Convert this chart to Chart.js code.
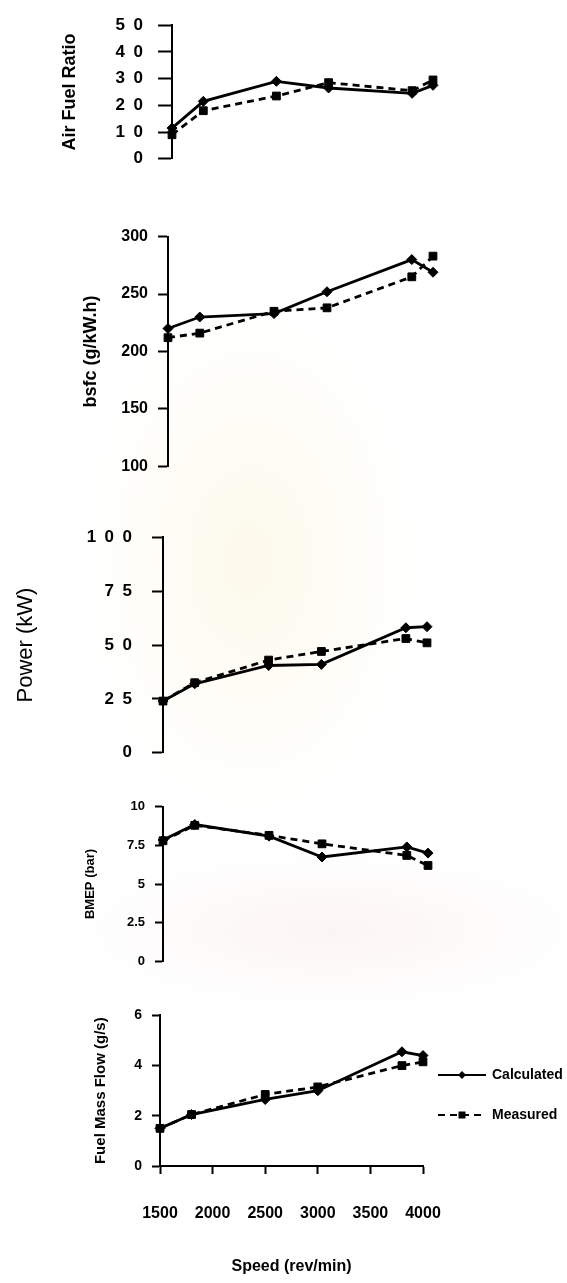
<!DOCTYPE html>
<html>
<head>
<meta charset="utf-8">
<script src="https://cdn.jsdelivr.net/npm/chart.js@4.4.1/dist/chart.umd.min.js"></script>
<style>
  html, body { margin: 0; padding: 0; background: #ffffff; }
  body {
    width: 567px; height: 1283px; position: relative; overflow: hidden;
    background:
      radial-gradient(ellipse 170px 260px at 250px 560px, rgba(250,244,215,0.5), rgba(255,255,255,0) 100%),
      radial-gradient(ellipse 260px 80px at 330px 930px, rgba(250,232,232,0.45), rgba(255,255,255,0) 100%),
      #ffffff;
  }
  canvas { position: absolute; left: 0; }
</style>
</head>
<body>
<script>
// Engine speed points shared by every panel
const speeds = [1500, 1800, 2500, 3000, 3800, 4000];
const speedTicks = [1500, 2000, 2500, 3000, 3500, 4000];

// Air fuel ratio
const afrCalculated = [11.5, 21.5, 29, 26.5, 24.5, 27.5];
const afrMeasured   = [9, 18, 23.5, 28.5, 25.5, 29.5];
const afrTicks = [0, 10, 20, 30, 40, 50];

// Brake specific fuel consumption (g/kW.h)
const bsfcCalculated = [220, 230, 233, 252, 280, 269];
const bsfcMeasured   = [212, 216, 235, 238, 265, 283];
const bsfcTicks = [100, 150, 200, 250, 300];

// Power (kW)
const powerCalculated = [24, 32, 40.5, 41, 58, 58.5];
const powerMeasured   = [24, 32.5, 43, 47, 53, 51];
const powerTicks = [0, 25, 50, 75, 100];

// BMEP (bar)
const bmepCalculated = [7.85, 8.85, 8.1, 6.75, 7.4, 7.0];
const bmepMeasured   = [7.8, 8.8, 8.15, 7.6, 6.85, 6.2];
const bmepTicks = [0, 2.5, 5, 7.5, 10];

// Fuel mass flow (g/s)
const fuelCalculated = [1.5, 2.05, 2.65, 3.0, 4.55, 4.4];
const fuelMeasured   = [1.5, 2.05, 2.85, 3.15, 4.0, 4.15];
const fuelTicks = [0, 2, 4, 6];

const seriesNames = ['Calculated', 'Measured'];

Chart.defaults.font.family = "'Liberation Sans', Arial, Helvetica, sans-serif";
Chart.defaults.color = '#000';

const INK = '#000';
const spaced = v => String(v).split('').join('\u2002');

function series(values, i) {
  const solid = i === 0;
  return {
    label: seriesNames[i],
    data: speeds.map((s, k) => ({ x: s, y: values[k] })),
    borderColor: INK,
    backgroundColor: INK,
    borderWidth: 2.8,
    borderDash: solid ? [] : [7, 5],
    pointStyle: solid ? 'rectRot' : 'rect',
    pointRadius: solid ? 5 : 5.5,
    pointBackgroundColor: INK,
    pointBorderColor: INK,
    pointBorderWidth: 1,
    tension: 0,
    clip: false
  };
}

// Legend at the right of the last panel: line sample + marker + label
const sideLegend = {
  id: 'sideLegend',
  afterDraw(chart, args, opts) {
    if (!opts || !opts.show) return;
    const ctx = chart.ctx;
    chart.data.datasets.forEach((ds, i) => {
      const y = opts.y + i * opts.gap;
      ctx.save();
      ctx.strokeStyle = ds.borderColor;
      ctx.lineWidth = 2;
      ctx.setLineDash(ds.borderDash || []);
      ctx.beginPath();
      ctx.moveTo(opts.x, y);
      ctx.lineTo(opts.x + opts.len, y);
      ctx.stroke();
      ctx.setLineDash([]);
      ctx.fillStyle = ds.pointBackgroundColor;
      const cx = opts.x + opts.len / 2;
      ctx.beginPath();
      if (ds.pointStyle === 'rectRot') {
        const r = 4;
        ctx.moveTo(cx, y - r); ctx.lineTo(cx + r, y); ctx.lineTo(cx, y + r); ctx.lineTo(cx - r, y);
        ctx.closePath();
      } else {
        ctx.rect(cx - 3.5, y - 3.5, 7, 7);
      }
      ctx.fill();
      ctx.font = 'bold 14px ' + Chart.defaults.font.family;
      ctx.textBaseline = 'middle';
      ctx.textAlign = 'left';
      ctx.fillText(ds.label, opts.x + opts.len + 6, y);
      ctx.restore();
    });
  }
};

function panel(p) {
  const padTop = 16;
  const padBottom = p.xAxis ? 4 : 16;
  const xH = p.xAxis ? 110 : 0;
  const width = p.W || (p.R + 24);
  const height = p.B - p.T + padTop + xH + padBottom;
  const top = p.T - padTop;

  const c = document.createElement('canvas');
  c.width = width; c.height = height;
  c.style.top = top + 'px';
  c.style.width = width + 'px';
  c.style.height = height + 'px';
  document.body.appendChild(c);

  const axisGrid = len => ({
    display: true, drawOnChartArea: false, drawTicks: true,
    tickLength: len, tickWidth: 2, tickColor: INK, color: INK
  });

  const opts = {
    responsive: false,
    animation: false,
    devicePixelRatio: 1,
    layout: { padding: { left: p.PL, right: width - p.R, top: padTop, bottom: padBottom } },
    plugins: {
      legend: { display: false },
      tooltip: { enabled: false },
      sideLegend: p.legend || { show: false }
    },
    scales: {
      x: {
        type: 'linear', min: 1500, max: 4000,
        display: !!p.xAxis,
        afterBuildTicks: s => { s.ticks = speedTicks.map(v => ({ value: v })); },
        afterFit: s => { if (p.xAxis) s.height = xH; },
        grid: axisGrid(8),
        border: { display: true, color: INK, width: 2 },
        ticks: {
          padding: 30, font: { size: 16, weight: 'bold' }, color: INK,
          maxRotation: 0, autoSkip: false, callback: v => String(v)
        },
        title: { display: true, text: 'Speed (rev/min)', font: { size: 16, weight: 'bold' }, color: INK, padding: 0 }
      },
      y: {
        type: 'linear', min: p.ticks[0], max: p.ticks[p.ticks.length - 1],
        afterBuildTicks: s => { s.ticks = p.ticks.map(v => ({ value: v })); },
        afterFit: s => { s.width = p.L - p.PL; },
        grid: axisGrid(p.tickLen),
        border: { display: true, color: INK, width: 2 },
        ticks: {
          padding: p.tickPad, color: INK, autoSkip: false,
          font: { size: p.tickSize, weight: 'bold' },
          callback: v => p.spaced ? spaced(v) : String(v)
        },
        title: {
          display: true, text: p.title, color: INK, padding: 0,
          font: { size: p.titleSize, weight: p.titleWeight || 'bold' }
        }
      }
    }
  };

  new Chart(c, {
    type: 'line',
    data: { datasets: [series(p.calc, 0), series(p.meas, 1)] },
    options: opts,
    plugins: [sideLegend]
  });
}

panel({ L: 172, R: 433, T: 16, B: 168, PL: 59, ticks: afrTicks, calc: afrCalculated, meas: afrMeasured,
        tickLen: 14, tickPad: 15, tickSize: 17, spaced: true, title: 'Air Fuel Ratio', titleSize: 18 });

panel({ L: 168, R: 433, T: 233, B: 470, PL: 80, ticks: bsfcTicks, calc: bsfcCalculated, meas: bsfcMeasured,
        tickLen: 10, tickPad: 10, tickSize: 16, title: 'bsfc (g/kW.h)', titleSize: 18 });

panel({ L: 163, R: 427, T: 523, B: 767, PL: 13, ticks: powerTicks, calc: powerCalculated, meas: powerMeasured,
        tickLen: 11, tickPad: 20, tickSize: 17, spaced: true, title: 'Power (kW)', titleSize: 22, titleWeight: 'normal' });

panel({ L: 163, R: 428, T: 805, B: 963, PL: 83, ticks: bmepTicks, calc: bmepCalculated, meas: bmepMeasured,
        tickLen: 8, tickPad: 10, tickSize: 13, title: 'BMEP (bar)', titleSize: 13 });

panel({ L: 160, R: 423, T: 1013, B: 1166, PL: 92, ticks: fuelTicks, calc: fuelCalculated, meas: fuelMeasured,
        tickLen: 8, tickPad: 10, tickSize: 14, title: 'Fuel Mass Flow (g/s)', titleSize: 15,
        xAxis: true, W: 567, legend: { show: true, x: 438, len: 48, y: 1075 - 997, gap: 40 } });
</script>
</body>
</html>
